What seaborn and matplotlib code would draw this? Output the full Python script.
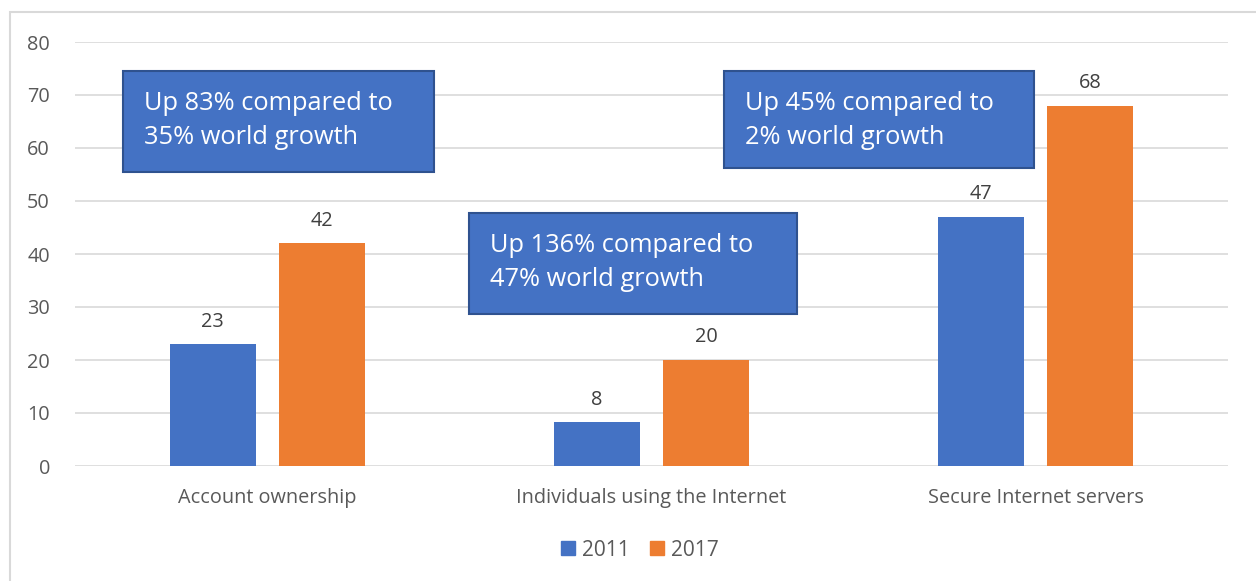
import matplotlib
matplotlib.use("Agg")
import matplotlib.pyplot as plt
from matplotlib.patches import Rectangle
import pandas as pd
import seaborn as sns

categories = ["Account ownership", "Individuals using the Internet", "Secure Internet servers"]
years = ["2011", "2017"]
values_2011 = [23, 8.3, 47]
values_2017 = [42, 20, 68]
labels_2011 = ["23", "8", "47"]
labels_2017 = ["42", "20", "68"]
notes = [
    "Up 83% compared to\n35% world growth",
    "Up 136% compared to\n47% world growth",
    "Up 45% compared to\n2% world growth",
]

df = pd.DataFrame({
    "category": categories * 2,
    "year": [years[0]] * 3 + [years[1]] * 3,
    "value": values_2011 + values_2017,
})

sns.set_theme(style="white")
plt.rcParams["font.family"] = ["Open Sans", "DejaVu Sans"]

fig = plt.figure(figsize=(12.56, 5.81), dpi=100)
ax = fig.add_axes([75 / 1256, 1 - 466 / 581, 1153 / 1256, 424 / 581])

palette = {"2011": "#4472C4", "2017": "#ED7D31"}
sns.barplot(data=df, x="category", y="value", hue="year", palette=palette,
            width=0.567, gap=0.21, saturation=1, linewidth=0, ax=ax,
            legend=False, zorder=3)

ax.set_ylim(0, 80)
ax.set_xlim(-0.5, 2.5)
ax.set_yticks(range(0, 81, 10))
ax.yaxis.grid(True, color="#d9d9d9", lw=1.2, zorder=0)
ax.set_axisbelow(True)
for s in ax.spines.values():
    s.set_visible(False)
ax.tick_params(axis="both", length=0, labelsize=14.3, labelcolor="#595959")
ax.tick_params(axis="y", pad=18)
ax.tick_params(axis="x", pad=16)
ax.set_xlabel("")
ax.set_ylabel("")

for cont, labs in zip(ax.containers, [labels_2011, labels_2017]):
    ax.bar_label(cont, labels=labs, padding=9, fontsize=14.3, color="#404040")

# callout boxes (x in category units, y in data units)
boxes = [(-0.375, 55.5, 0.809, 19.0), (0.525, 28.7, 0.854, 19.0), (1.189, 56.2, 0.806, 18.3)]
for (bx, by, bw, bh), note in zip(boxes, notes):
    ax.add_patch(Rectangle((bx, by), bw, bh, facecolor="#4472C4", edgecolor="#2F528F",
                           lw=1.5, zorder=5, clip_on=False))
    ax.text(bx + 0.055, by + bh - 3.75, note, color="white", fontsize=18.3,
            va="top", ha="left", linespacing=1.45, zorder=6)

# legend
handles = [Rectangle((0, 0), 1, 1, color=palette[y]) for y in years]
fig.legend(handles, years, loc="center", bbox_to_anchor=(640 / 1256, 1 - 550 / 581),
           ncol=2, frameon=False, fontsize=15, handlelength=0.65, handleheight=0.65,
           handletextpad=0.35, columnspacing=1.0, labelcolor="#595959")

# outer chart border
fig.add_artist(Rectangle((10 / 1256, -0.01), 1.1, 1 - 12 / 581 + 0.01, transform=fig.transFigure,
                         fill=False, edgecolor="#d9d9d9", lw=1.5))

fig.savefig("out.png", dpi=100)
